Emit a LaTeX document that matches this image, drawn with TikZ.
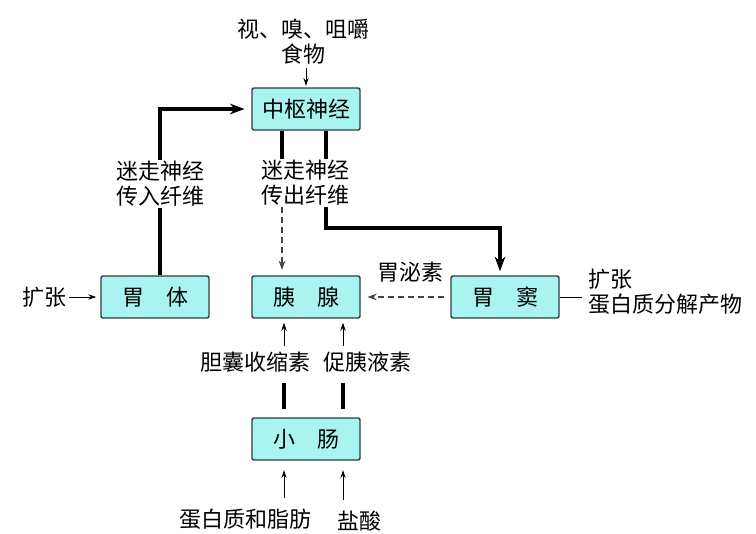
\documentclass[tikz,border=0pt]{standalone}
\usepackage{fontspec}
\usepackage{xcolor}
\usepackage{tikz}
\usetikzlibrary{
  arrows.meta, positioning
}
\newfontfamily\cjkfont{Noto Sans CJK SC}
\definecolor{colOrgan}   {HTML}{A9F4F0}
\definecolor{colEdge}    {HTML}{2B3F3F}
\definecolor{colDash}    {HTML}{444444}
\tikzset{
  organ/.style={
    draw=colEdge, fill=colOrgan, rounded corners=1.5pt,
    minimum width=81pt, minimum height=31.5pt,
    line width=1.1pt, inner sep=0pt,
    font=\cjkfont\fontsize{16.5}{18.75}\selectfont
  },
  lbl/.style={
    align=center, inner sep=1pt,
    font=\cjkfont\fontsize{16.5}{18.75}\selectfont
  },
  thinarr/.style={
    -{Stealth[length=6pt,width=4pt]},
    line width=0.7pt
  },
  dasharr/.style={
    -{Stealth[length=7pt,width=5pt]},
    draw=colDash, line width=1.1pt,
    dashed, dash pattern=on 4.5pt off 3pt
  },
  thickarr/.style={
    -{Stealth[length=11pt,width=8pt]},
    line width=3pt
  },
  thickln/.style={line width=3pt}
}
\begin{document}
\begin{tikzpicture}[x=0.75pt, y=-0.75pt]
  \useasboundingbox (0,0) rectangle (756,533);
  % organs
  \node[organ] (zhongshu)  at (306,109) {中枢神经};
  \node[organ] (weiti)     at (155,297) {胃\hspace{1em}体};
  \node[organ] (yixian)    at (306,297) {胰\hspace{1em}腺};
  \node[organ] (weidou)    at (505,297) {胃\hspace{1em}窦};
  \node[organ] (xiaochang) at (306,439) {小\hspace{1em}肠};
  % stimuli and hormones
  \node[lbl] (food)     at (303,42)  {视、嗅、咀嚼\\食物};
  \node[lbl] (dilate)   at (44,297)  {扩张};
  \node[lbl, align=left, anchor=west] (antrumin) at (587,292) {扩张\\蛋白质分解产物};
  \node[lbl] (gastrin)  at (410,272) {胃泌素};
  \node[lbl] (efflabel) at (305,183) {迷走神经\\传出纤维};
  \node[lbl] (cck)      at (255,362) {胆囊收缩素};
  \node[lbl] (secretin) at (367,362) {促胰液素};
  \node[lbl] (digest)   at (245,519) {蛋白质和脂肪};
  \node[lbl] (acid)     at (359,521) {盐酸};
  % channels
  \coordinate (affx) at (160,0);
  \coordinate (lcx)  at (282,0);
  \coordinate (rcx)  at (326,0);
  \coordinate (turn) at (500,228);
  \coordinate (lbx)  at (284,0);
  \coordinate (rbx)  at (343,0);
  % connectors
  \draw[thinarr, shorten <=1pt, shorten >=1pt] (food.south -| zhongshu.north) -- (zhongshu.north);
  \draw[thickarr, shorten >=5pt] (weiti.north -| affx)
    -- node[lbl, fill=white, pos=0.55] (afflabel) {迷走神经\\传入纤维}
    (affx |- zhongshu.west) -- (zhongshu.west);
  \draw[thickln] (zhongshu.south -| lcx) -- (efflabel.north -| lcx);
  \draw[thickln] (zhongshu.south -| rcx) -- (efflabel.north -| rcx);
  \draw[dasharr, shorten >=4pt] (efflabel.south -| lcx) -- (yixian.north -| lcx);
  \draw[thickarr, line width=2.4pt, shorten >=3pt] (efflabel.south -| rcx) |- (turn) -- (weidou.north -| turn);
  \draw[thinarr, shorten <=1pt, shorten >=3pt] (dilate) -- (weiti);
  \draw[dasharr, shorten <=5pt, shorten >=5pt] (weidou.west) -- (yixian.east);
  \draw[line width=0.7pt, shorten >=4pt] (weidou.east) -- (weidou.east -| antrumin.west);
  \draw[thinarr, shorten <=3pt, shorten >=3pt] (cck.north -| lbx) -- (yixian.south -| lbx);
  \draw[thinarr, shorten <=3pt, shorten >=3pt] (secretin.north -| rbx) -- (yixian.south -| rbx);
  \draw[thickln, shorten <=6pt, shorten >=7pt] (xiaochang.north -| lbx) -- (cck.south -| lbx);
  \draw[thickln, shorten <=6pt, shorten >=7pt] (xiaochang.north -| rbx) -- (secretin.south -| rbx);
  \draw[thinarr, shorten <=7pt, shorten >=7pt] (digest.north -| lbx) -- (xiaochang.south -| lbx);
  \draw[thinarr, shorten <=7pt, shorten >=7pt] (acid.north -| rbx) -- (xiaochang.south -| rbx);
\end{tikzpicture}
\end{document}
